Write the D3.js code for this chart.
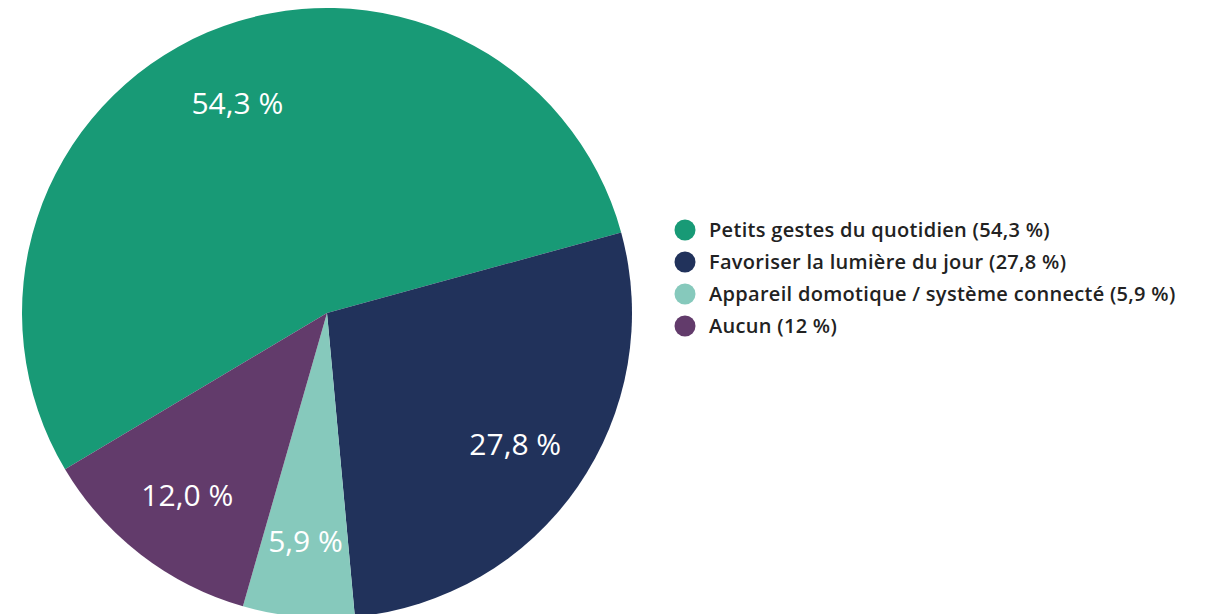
<!DOCTYPE html>
<html>
<head>
<meta charset="utf-8">
<script src="https://cdn.jsdelivr.net/npm/d3@7"></script>
<style>
  body { margin: 0; background: #fff; }
  svg { display: block; }
</style>
</head>
<body>
<div id="chart"></div>
<script>
// data
var categories = ['Petits gestes du quotidien', 'Favoriser la lumière du jour', 'Appareil domotique / système connecté', 'Aucun'];
var values = [54.3, 27.8, 5.9, 12.0];
var sliceLabels = ['54,3 %', '27,8 %', '5,9 %', '12,0 %'];
var legendLabels = ['Petits gestes du quotidien (54,3 %)', 'Favoriser la lumière du jour (27,8 %)', 'Appareil domotique / système connecté (5,9 %)', 'Aucun (12 %)'];
var colors = ['#189a76', '#21325b', '#86c9bc', '#623b6b'];

var width = 1207, height = 614;
var cx = 327, cy = 313, radius = 305;

var svg = d3.select('#chart').append('svg')
  .attr('width', width)
  .attr('height', height);

var data = values.map(function(v, i) {
  return {name: categories[i], value: v, label: sliceLabels[i], color: colors[i]};
});

// green slice starts lower-left, going clockwise
var start = -120.8 * Math.PI / 180;
var pie = d3.pie().sort(null).value(function(d) { return d.value; })
  .startAngle(start).endAngle(start + 2 * Math.PI);

var arc = d3.arc().innerRadius(0).outerRadius(radius);
var labelArc = d3.arc().innerRadius(229).outerRadius(229);

var g = svg.append('g').attr('transform', 'translate(' + cx + ',' + cy + ')');

g.selectAll('.slice')
  .data(pie(data)).enter().append('path')
  .attr('class', 'slice')
  .attr('d', arc)
  .style('fill', function(d) { return d.data.color; })
  .style('stroke', 'none');

g.selectAll('.slice-label')
  .data(pie(data)).enter().append('text')
  .attr('class', 'slice-label')
  .attr('transform', function(d) { return 'translate(' + labelArc.centroid(d) + ')'; })
  .attr('text-anchor', 'middle')
  .attr('dy', '0.38em')
  .style('font-family', '"Open Sans", sans-serif')
  .style('font-size', '30px')
  .style('fill', '#fff')
  .text(function(d) { return d.data.label; });

// legend
var legend = svg.append('g').attr('transform', 'translate(685,230)');
var rowH = 32;
var rows = legend.selectAll('.legend-row')
  .data(legendLabels).enter().append('g')
  .attr('class', 'legend-row')
  .attr('transform', function(d, i) { return 'translate(0,' + i * rowH + ')'; });

rows.append('circle')
  .attr('r', 10.5)
  .style('fill', function(d, i) { return colors[i]; });

rows.append('text')
  .attr('x', 24)
  .attr('dy', '0.36em')
  .style('font-family', '"Open Sans", sans-serif')
  .style('font-weight', '600')
  .style('font-size', '20px')
  .style('letter-spacing', '0.3px')
  .style('fill', '#222')
  .text(function(d) { return d; });
</script>
</body>
</html>
